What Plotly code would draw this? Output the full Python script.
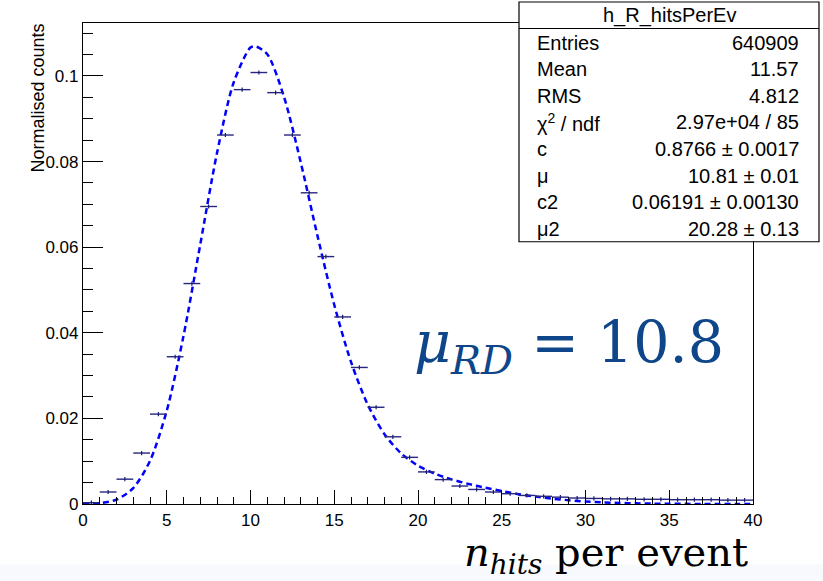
import plotly.graph_objects as go

# ---------------- data ----------------
bin_lo = list(range(0, 40))
norm_counts = [0.0003, 0.0028, 0.0058, 0.0119, 0.0210, 0.0344, 0.0515, 0.0695, 0.0862, 0.0968,
               0.1008, 0.0961, 0.0862, 0.0727, 0.0578, 0.0437, 0.0319, 0.0226, 0.0157, 0.0109,
               0.0075, 0.0057, 0.0042, 0.0034, 0.0028, 0.0024, 0.0020, 0.0018, 0.0016, 0.0014,
               0.0013, 0.0012, 0.0012, 0.0011, 0.0011, 0.0010, 0.0010, 0.0010, 0.0009, 0.0009]

fit_x = [0, 1, 2, 3, 4, 5, 6, 7, 8, 9, 10, 10.3, 11, 12, 13, 14, 15, 16, 17, 18, 19, 20,
         21, 22, 23, 24, 25, 26, 27, 28, 29, 30, 31, 32, 33, 34, 35, 36, 37, 38, 39, 40]
fit_y = [0.00002, 0.00019, 0.00103, 0.00373, 0.01009, 0.02178, 0.03926, 0.06062, 0.08197, 0.09852,
         0.10664, 0.10690, 0.10508, 0.09511, 0.07980, 0.06264, 0.04654, 0.03320, 0.02321, 0.01631,
         0.01180, 0.00895, 0.00708, 0.00575, 0.00471, 0.00382, 0.00303, 0.00230, 0.00173, 0.00125,
         0.00088, 0.00059, 0.00039, 0.00025, 0.00015, 0.00009, 0.00005, 0.00003, 0.00002, 0.00001,
         0.00001, 0.00000]

x_ticks = [0, 5, 10, 15, 20, 25, 30, 35, 40]
y_ticks = [0, 0.02, 0.04, 0.06, 0.08, 0.1]
y_tick_text = ["0", "0.02", "0.04", "0.06", "0.08", "0.1"]

stats_title = "h_R_hitsPerEv"
stats_names = ["Entries", "Mean", "RMS", "χ<sup>2</sup> / ndf", "c", "μ", "c2", "μ2"]
stats_values = ["640909", "11.57", "4.812", "2.97e+04 / 85", "0.8766 ± 0.0017",
                "10.81 ± 0.01", "0.06191 ± 0.00130", "20.28 ± 0.13"]

# ---------------- layout geometry (pixels) ----------------
W, H = 823, 581
L, R, T, B = 83, 753, 23, 504.5


def px(x):
    return (x - L) / (R - L)


def py(y):
    return (B - y) / (B - T)


centers = [b + 0.5 for b in bin_lo]

fig = go.Figure()

fig.add_trace(go.Scatter(
    x=fit_x, y=fit_y, mode="lines",
    line=dict(color="#0000ff", width=2.5, dash="6px,4px", shape="spline", smoothing=0.8),
    hoverinfo="skip", showlegend=False))

fig.add_trace(go.Scatter(
    x=centers, y=norm_counts, mode="markers",
    marker=dict(color="#1a1a70", size=3, symbol="line-ns-open", line=dict(width=1.2, color="#1a1a70")),
    error_x=dict(type="constant", value=0.5, color="#26267e", thickness=1.4, width=0),
    showlegend=False))

axis_font = dict(family="Liberation Sans, Arial, sans-serif", size=17, color="black")

fig.update_xaxes(
    range=[0, 40], tickvals=x_ticks, ticks="inside", ticklen=14, tickwidth=1, tickcolor="black",
    minor=dict(dtick=1, ticks="inside", ticklen=7, tickwidth=1, tickcolor="black"),
    showline=True, linecolor="black", linewidth=1.2, mirror=True,
    showgrid=False, zeroline=False, tickfont=axis_font)

fig.update_yaxes(
    range=[0, (B - T) / 4285.0], tickvals=y_ticks, ticktext=y_tick_text,
    ticks="inside", ticklen=20, tickwidth=1, tickcolor="black",
    minor=dict(dtick=0.005, tick0=0, ticks="inside", ticklen=10, tickwidth=1, tickcolor="black"),
    showline=True, linecolor="black", linewidth=1.2, mirror=True,
    showgrid=False, zeroline=False, tickfont=axis_font)

shapes = []
# light band at the very bottom
shapes.append(dict(type="rect", xref="paper", yref="paper",
                   x0=px(0), x1=px(W), y0=py(H), y1=py(565),
                   fillcolor="#f8f9fc", line=dict(width=0), layer="below"))
# stats box
bx0, bx1, by0, by1 = 519, 819, 2, 242
shapes.append(dict(type="rect", xref="paper", yref="paper",
                   x0=px(bx0), x1=px(bx1), y0=py(by1), y1=py(by0),
                   fillcolor="white", line=dict(color="black", width=1.2), layer="above"))
shapes.append(dict(type="line", xref="paper", yref="paper",
                   x0=px(bx0), x1=px(bx1), y0=py(28.5), y1=py(28.5),
                   line=dict(color="black", width=1.2), layer="above"))

annotations = []
stats_font = dict(family="Liberation Sans, Arial, sans-serif", size=20, color="black")
annotations.append(dict(text=stats_title, xref="paper", yref="paper", x=px((bx0 + bx1) / 2), y=py(15.5),
                        xanchor="center", yanchor="middle", showarrow=False, font=stats_font))
for i, (n, v) in enumerate(zip(stats_names, stats_values)):
    yy = 42.7 + 26.6 * i
    annotations.append(dict(text=n, xref="paper", yref="paper", x=px(535), y=py(yy),
                            xanchor="left", yanchor="middle", showarrow=False, font=stats_font))
    annotations.append(dict(text=v, xref="paper", yref="paper", x=px(801), y=py(yy),
                            xanchor="right", yanchor="middle", showarrow=False, font=stats_font))

# y-axis title (ROOT style: aligned to the top end of the axis)
annotations.append(dict(text="Normalised counts", xref="paper", yref="paper", x=px(38), y=py(T - 1),
                        xanchor="center", yanchor="top", textangle=-90, showarrow=False,
                        font=dict(family="Liberation Sans, Arial, sans-serif", size=18, color="black")))

# big mu_RD label
annotations.append(dict(text="<i>μ</i><sub><i>RD</i></sub> = 10.8", xref="paper", yref="paper",
                        x=px(569), y=py(346), xanchor="center", yanchor="middle", showarrow=False,
                        font=dict(family="DejaVu Serif, serif", size=57, color="#0e4689")))

# x-axis title
annotations.append(dict(text="<i>n</i><sub><i>hits</i></sub> per event", xref="paper", yref="paper",
                        x=px(750), y=py(556), xanchor="right", yanchor="middle", showarrow=False,
                        font=dict(family="DejaVu Serif, serif", size=40, color="black")))

fig.update_layout(
    width=W, height=H,
    margin=dict(l=L, r=W - R, t=T, b=H - B, pad=0),
    paper_bgcolor="white", plot_bgcolor="white",
    shapes=shapes, annotations=annotations, showlegend=False)

fig.write_html("out.html")
